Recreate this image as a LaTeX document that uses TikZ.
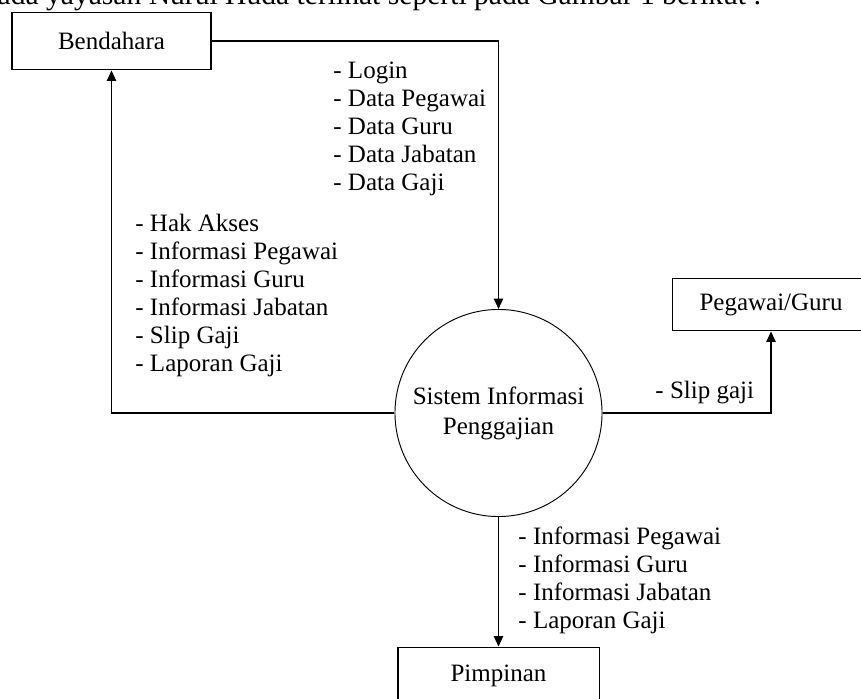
\documentclass[tikz,border=0pt]{standalone}
\usepackage{fontspec}
\setmainfont{Liberation Serif}
\usetikzlibrary{arrows.meta}
\begin{document}
\begin{tikzpicture}[x=0.48pt,y=-0.48pt,
  entity/.style={draw, line width=0.5pt, rectangle, inner sep=0pt,
    font=\fontsize{12}{14}\selectfont},
  process/.style={draw, circle, line width=0.45pt, inner sep=0pt,
    minimum size=99.4pt, align=center, font=\fontsize{12}{14.4}\selectfont},
  flow/.style={line width=0.5pt, -{Triangle[width=4.5pt,length=5pt]}},
  flowlabel/.style={anchor=north west, inner sep=0pt, align=left,
    font=\fontsize{12}{13.44}\selectfont}
]
\useasboundingbox (0,0) rectangle (861,699);
\clip (0,0) rectangle (861,699);

% running text of the page above the figure
\node[anchor=base east, inner sep=0pt, font=\fontsize{14.2}{16}\selectfont] (caption)
  at (762,5) {pada yayasan Nurul Huda terlihat seperti pada Gambar 1 berikut :};

% external entities and the process
\node[entity, minimum width=95.5pt, minimum height=27.8pt] (bend) at (111.5,41) {Bendahara};
\node[entity, minimum width=95pt, minimum height=25.4pt] (peg) at (771,304.5) {Pegawai/Guru};
\node[process] (sys) at (498.5,413) {Sistem Informasi\\Penggajian};
\node[entity, minimum width=96.5pt, minimum height=27.8pt] (pim) at (498.5,676) {Pimpinan};

% data flows
\draw[flow] (bend.east) -| (sys.north);
\draw[flow] (sys.west) -| (bend.south);
\draw[flow] (sys.east) -| (peg.south);
\draw[flow] (sys.south) -- (pim.north);

% flow labels
\node[flowlabel] (inlabel) at (333,62)
  {- Login\\- Data Pegawai\\- Data Guru\\- Data Jabatan\\- Data Gaji};
\node[flowlabel] (outlabel) at (135,214)
  {- Hak Akses\\- Informasi Pegawai\\- Informasi Guru\\- Informasi Jabatan\\- Slip Gaji\\- Laporan Gaji};
\node[flowlabel] (sliplabel) at (655,381) {- Slip gaji};
\node[flowlabel] (pimlabel) at (518,526)
  {- Informasi Pegawai\\- Informasi Guru\\- Informasi Jabatan\\- Laporan Gaji};
\end{tikzpicture}
\end{document}
